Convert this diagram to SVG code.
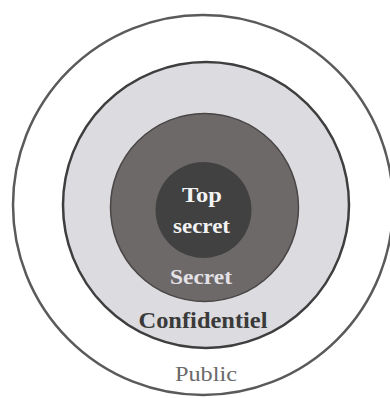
<svg xmlns="http://www.w3.org/2000/svg" width="390" height="398" viewBox="0 0 390 398">
<style>
  text { font-family: "Liberation Serif", "DejaVu Serif", serif; text-anchor: middle; }
  .b { font-weight: bold; }
</style>
<rect width="390" height="398" fill="#ffffff"/>
<g id="public">
  <circle cx="203" cy="205" r="190" fill="#ffffff" stroke="#5a5a5a" stroke-width="2.5"/>
  <text x="206" y="381" font-size="21" fill="#6a6a6a" textLength="62" lengthAdjust="spacingAndGlyphs">Public</text>
</g>
<g id="confidentiel">
  <circle cx="206" cy="205" r="143" fill="#dcdce0" stroke="#3e3e3e" stroke-width="2.5"/>
  <text x="203" y="328" font-size="23" class="b" fill="#3a3a3a" textLength="129" lengthAdjust="spacingAndGlyphs">Confidentiel</text>
</g>
<g id="secret">
  <circle cx="204.5" cy="207.5" r="94" fill="#6e6969" stroke="#4a4646" stroke-width="1.5"/>
  <text x="201" y="284" font-size="22" class="b" fill="#e4e2e6" textLength="62" lengthAdjust="spacingAndGlyphs">Secret</text>
</g>
<g id="top-secret">
  <circle cx="203.5" cy="210" r="48" fill="#414141"/>
  <text x="202" y="202" font-size="22" class="b" fill="#f2f2f2" textLength="40" lengthAdjust="spacingAndGlyphs">Top</text>
  <text x="201.5" y="233" font-size="20" class="b" fill="#f2f2f2" textLength="57" lengthAdjust="spacingAndGlyphs">secret</text>
</g>
<g id="connectors"/>
</svg>
